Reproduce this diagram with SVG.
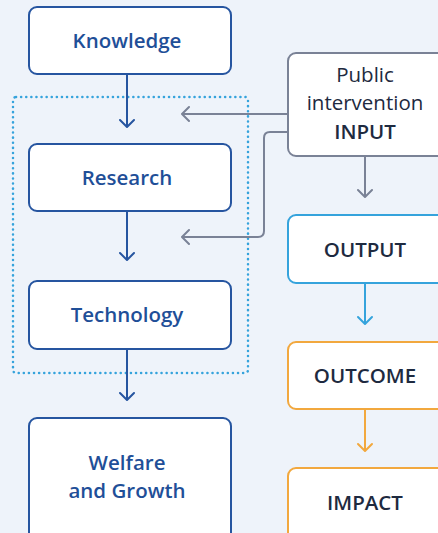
<svg xmlns="http://www.w3.org/2000/svg" width="438" height="533" viewBox="0 0 438 533">
<defs>
<style>
.bg{fill:#eef3fa}
.box{fill:#ffffff;stroke-width:2}
.blue{stroke:#2655a0}
.gray{stroke:#7a8296}
.lblue{stroke:#35a3dc}
.orange{stroke:#f2a83e}
.t{font-family:"Open Sans","Noto Sans","Liberation Sans",sans-serif;font-size:20.5px;text-anchor:middle;font-weight:600}
.tb{fill:#1f4f98}
.td{fill:#1e2a40}
.reg{font-weight:400}
.line{fill:none;stroke-width:2}
.head{fill:none;stroke-width:2;stroke-linecap:round;stroke-linejoin:round}
</style>
</defs>
<rect class="bg" x="0" y="0" width="438" height="533"/>
<rect x="13" y="97" width="235" height="276" rx="3" fill="none" stroke="#35a3dc" stroke-width="2.5" stroke-dasharray="0.1 5" stroke-linecap="round"/>
<g id="connectors">
<path class="line blue" d="M127 74V127M127 212V260M127 349V400"/>
<path class="head blue" d="M120 120L127 127L134 120M120 253L127 260L134 253M120 393L127 400L134 393"/>
<path class="line gray" d="M289 114H182M289 132H270Q264 132 264 138V231Q264 237 258 237H182M365 156V197"/>
<path class="head gray" d="M189 107L182 114L189 121M189 230L182 237L189 244M358 190L365 197L372 190"/>
<path class="line lblue" d="M365 283V324"/>
<path class="head lblue" d="M358 317L365 324L372 317"/>
<path class="line orange" d="M365 409V451"/>
<path class="head orange" d="M358 444L365 451L372 444"/>
</g>
<g id="knowledge"><rect class="box blue" x="29" y="7" width="202" height="67" rx="8"/><text class="t tb" x="127" y="48">Knowledge</text></g>
<g id="research"><rect class="box blue" x="29" y="144" width="202" height="67" rx="8"/><text class="t tb" x="127" y="185">Research</text></g>
<g id="technology"><rect class="box blue" x="29" y="281" width="202" height="68" rx="8"/><text class="t tb" x="127" y="322">Technology</text></g>
<g id="welfare"><rect class="box blue" x="29" y="418" width="202" height="124" rx="8"/><text class="t tb" x="127" y="470">Welfare</text><text class="t tb" x="127" y="498">and Growth</text></g>
<g id="input"><rect class="box gray" x="288" y="53" width="160" height="103" rx="8"/><text class="t td reg" x="365" y="82">Public</text><text class="t td reg" x="365" y="110">intervention</text><text class="t td" x="365" y="139">INPUT</text></g>
<g id="output"><rect class="box lblue" x="288" y="215" width="160" height="68" rx="8"/><text class="t td" x="365" y="257">OUTPUT</text></g>
<g id="outcome"><rect class="box orange" x="288" y="342" width="160" height="67" rx="8"/><text class="t td" x="365" y="383">OUTCOME</text></g>
<g id="impact"><rect class="box orange" x="288" y="468" width="160" height="80" rx="8"/><text class="t td" x="365" y="510">IMPACT</text></g>
</svg>
